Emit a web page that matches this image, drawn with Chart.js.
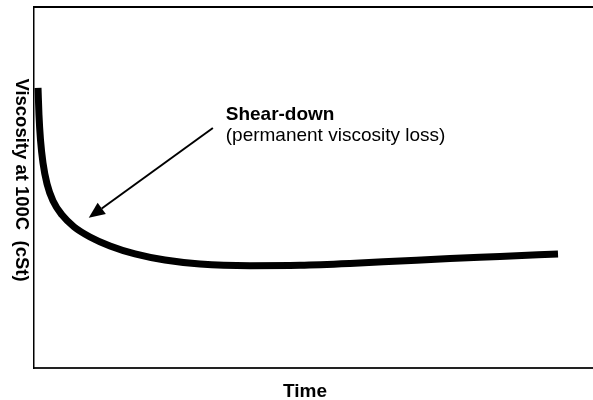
<!DOCTYPE html>
<html>
<head>
<meta charset="utf-8">
<style>
  html, body { margin: 0; padding: 0; background: #fff; }
  canvas { display: block; }
</style>
<script src="https://cdn.jsdelivr.net/npm/chart.js@4/dist/chart.umd.min.js"></script>
</head>
<body>
<canvas id="c" width="593" height="400"></canvas>
<script>
// ---- data ----
const timeValues = [0.72, 0.89, 1.16, 1.61, 2.33, 3.40, 5.01, 7.16, 10.02, 13.60, 18.07, 23.43, 29.70, 38.64, 47.58, 56.53, 65.47, 74.42, 83.36, 93.74];
const viscosityValues = [77.6, 70.1, 63.2, 56.8, 51.0, 46.3, 42.4, 39.1, 36.3, 33.8, 31.6, 29.9, 28.8, 28.34, 28.45, 28.95, 29.64, 30.33, 30.89, 31.58];
const xAxisTitle = "Time";
const yAxisTitle = "Viscosity at 100C  (cSt)";
const annotationTitle = "Shear-down";
const annotationSub = "(permanent viscosity loss)";
// arrow from (time, viscosity) tail to tip, in data units
const arrowTail = [32.0, 66.5];
const arrowTip = [9.8, 41.6];
const annotationAnchor = [34.3, 68.6];

const points = timeValues.map((t, i) => ({ x: t, y: viscosityValues[i] }));

const FONT = '"Liberation Sans", Arial, Helvetica, sans-serif';

const textPlugin = {
  id: 'textPlugin',
  afterDraw(chart) {
    const ctx = chart.ctx;
    const xs = chart.scales.x, ys = chart.scales.y;
    ctx.save();
    ctx.fillStyle = '#000';
    // x axis title
    ctx.font = 'bold 19px ' + FONT;
    ctx.textAlign = 'center';
    ctx.textBaseline = 'alphabetic';
    ctx.fillText(xAxisTitle, 305, 397);
    // y axis title, reading top to bottom
    ctx.save();
    ctx.translate(15.5, 180);
    ctx.rotate(Math.PI / 2);
    ctx.font = 'bold 18.5px ' + FONT;
    ctx.textAlign = 'center';
    ctx.fillText(yAxisTitle, 0, 0);
    ctx.restore();
    // annotation text
    const ax = xs.getPixelForValue(annotationAnchor[0]);
    const ay = ys.getPixelForValue(annotationAnchor[1]);
    ctx.textAlign = 'left';
    ctx.font = 'bold 19px ' + FONT;
    ctx.fillText(annotationTitle, ax, ay);
    ctx.font = '19px ' + FONT;
    ctx.fillText(annotationSub, ax, ay + 21);
    // arrow
    const x1 = xs.getPixelForValue(arrowTail[0]), y1 = ys.getPixelForValue(arrowTail[1]);
    const x2 = xs.getPixelForValue(arrowTip[0]), y2 = ys.getPixelForValue(arrowTip[1]);
    const ang = Math.atan2(y2 - y1, x2 - x1);
    const headLen = 16, headHalf = 7;
    const bx = x2 - headLen * Math.cos(ang), by = y2 - headLen * Math.sin(ang);
    ctx.strokeStyle = '#000';
    ctx.lineWidth = 2;
    ctx.beginPath();
    ctx.moveTo(x1, y1);
    ctx.lineTo(bx, by);
    ctx.stroke();
    ctx.beginPath();
    ctx.moveTo(x2, y2);
    ctx.lineTo(bx + headHalf * Math.sin(ang), by - headHalf * Math.cos(ang));
    ctx.lineTo(bx - headHalf * Math.sin(ang), by + headHalf * Math.cos(ang));
    ctx.closePath();
    ctx.fill();
    ctx.restore();
  }
};

new Chart(document.getElementById('c'), {
  type: 'line',
  data: {
    datasets: [{
      data: points,
      borderColor: '#000',
      borderWidth: 7,
      borderCapStyle: 'butt',
      borderJoinStyle: 'round',
      pointRadius: 0,
      fill: false,
      cubicInterpolationMode: 'monotone'
    }]
  },
  options: {
    responsive: false,
    animation: false,
    devicePixelRatio: 1,
    layout: { padding: 0 },
    plugins: { legend: { display: false }, tooltip: { enabled: false }, title: { display: false } },
    scales: {
      x: {
        type: 'linear', position: 'bottom', min: 0, max: 100,
        ticks: { display: false }, grid: { display: false },
        border: { display: true, color: '#222', width: 2 },
        afterFit(a) { a.height = 32; }
      },
      x2: {
        type: 'linear', position: 'top', min: 0, max: 100,
        ticks: { display: false }, grid: { display: false },
        border: { display: true, color: '#000', width: 2 },
        afterFit(a) { a.height = 7; }
      },
      y: {
        type: 'linear', position: 'left', min: 0, max: 100,
        ticks: { display: false }, grid: { display: false },
        border: { display: true, color: '#000', width: 1.5 },
        afterFit(a) { a.width = 34; }
      }
    }
  },
  plugins: [textPlugin]
});
</script>
</body>
</html>
